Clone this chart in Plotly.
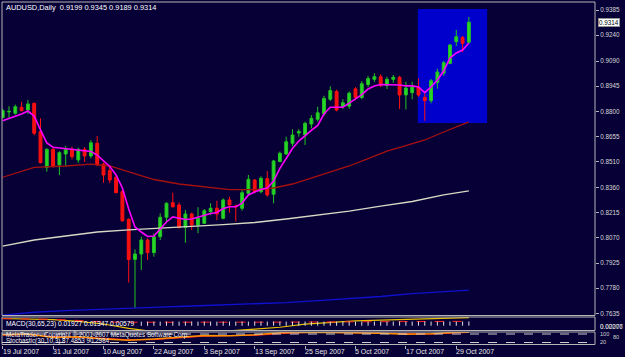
import plotly.graph_objects as go
import pandas as pd

# ---------------- data ----------------
dates = [d.strftime("%Y-%m-%d") for d in pd.bdate_range("2007-07-19", "2007-10-31")]

opens = [0.8765,0.8797,0.8789,0.8824,0.8808,0.8847,0.8683,0.8477,0.8581,0.8491,
 0.8554,0.8581,0.8520,0.8581,0.8543,0.8616,0.8496,0.8458,0.8420,0.8337,
 0.8177,0.7946,0.7977,0.8058,0.7985,0.8077,0.8189,0.8273,0.8260,0.8131,
 0.8208,0.8144,0.8154,0.8221,0.8241,0.8183,0.8289,0.8254,0.8241,0.8327,
 0.8404,0.8337,0.8412,0.8322,0.8510,0.8554,0.8616,0.8675,0.8664,0.8727,
 0.8754,0.8785,0.8870,0.8915,0.8827,0.8830,0.8930,0.8880,0.8955,0.8985,
 0.9000,0.8950,0.8985,0.8997,0.8895,0.8908,0.8939,0.8881,0.8862,0.8966,
 0.9020,0.9077,0.9202,0.9227,0.9199]
highs = [0.8815,0.8830,0.8839,0.8856,0.8866,0.8850,0.8760,0.8587,0.8590,0.8570,
 0.8600,0.8596,0.8590,0.8594,0.8635,0.8658,0.8504,0.8481,0.8433,0.8350,
 0.8183,0.8004,0.8077,0.8067,0.8096,0.8212,0.8275,0.8331,0.8275,0.8231,
 0.8216,0.8247,0.8237,0.8270,0.8285,0.8298,0.8308,0.8262,0.8346,0.8433,
 0.8410,0.8425,0.8456,0.8520,0.8568,0.8654,0.8697,0.8697,0.8740,0.8779,
 0.8827,0.8890,0.8945,0.8925,0.8870,0.8915,0.8940,0.8975,0.9005,0.9020,
 0.9015,0.9000,0.9010,0.9005,0.8971,0.8971,0.8991,0.8904,0.8987,0.9046,
 0.9091,0.9189,0.9270,0.9235,0.9345]
lows = [0.8760,0.8757,0.8781,0.8800,0.8785,0.8662,0.8500,0.8452,0.8475,0.8433,
 0.8485,0.8523,0.8504,0.8508,0.8529,0.8485,0.8388,0.8385,0.8327,0.8163,
 0.7812,0.7664,0.7885,0.7942,0.7962,0.8058,0.8156,0.8245,0.8123,0.8042,
 0.8116,0.8097,0.8150,0.8202,0.8173,0.8177,0.8216,0.8164,0.8227,0.8318,
 0.8327,0.8327,0.8308,0.8270,0.8508,0.8548,0.8600,0.8654,0.8606,0.8702,
 0.8741,0.8775,0.8860,0.8800,0.8815,0.8815,0.8865,0.8870,0.8940,0.8970,
 0.8940,0.8930,0.8965,0.8814,0.8811,0.8870,0.8885,0.8746,0.8847,0.8931,
 0.9004,0.9072,0.9177,0.9141,0.9189]
closes = [0.8804,0.8800,0.8827,0.8804,0.8843,0.8674,0.8504,0.8581,0.8485,0.8562,
 0.8581,0.8539,0.8581,0.8543,0.8619,0.8491,0.8433,0.8404,0.8331,0.8169,
 0.7946,0.7977,0.8058,0.7985,0.8077,0.8189,0.8270,0.8250,0.8131,0.8208,
 0.8144,0.8183,0.8227,0.8241,0.8208,0.8289,0.8260,0.8250,0.8331,0.8408,
 0.8337,0.8414,0.8318,0.8514,0.8558,0.8625,0.8664,0.8684,0.8731,0.8760,
 0.8792,0.8875,0.8920,0.8808,0.8850,0.8905,0.8880,0.8960,0.8990,0.9000,
 0.8950,0.8985,0.8997,0.8895,0.8935,0.8941,0.8895,0.8862,0.8977,0.9027,
 0.9081,0.9183,0.9231,0.9193,0.9314]

# fast MA (magenta), read per bar
ma_fast = [0.8746,0.8759,0.8771,0.8785,0.8802,0.8773,0.8693,0.8618,0.8593,0.8589,
 0.8587,0.8583,0.8577,0.8573,0.8569,0.8548,0.8517,0.8482,0.8433,0.8358,
 0.8237,0.8133,0.8104,0.8078,0.8081,0.8124,0.8162,0.8191,0.8185,0.8176,
 0.8179,0.8191,0.8202,0.8211,0.8217,0.8240,0.8250,0.8250,0.8271,0.8318,
 0.8335,0.8349,0.8358,0.8398,0.8471,0.8531,0.8586,0.8629,0.8661,0.8690,
 0.8719,0.8785,0.8824,0.8824,0.8824,0.8848,0.8874,0.8897,0.8929,0.8947,
 0.8955,0.8955,0.8952,0.8952,0.8947,0.8947,0.8941,0.8908,0.8941,0.8981,
 0.9033,0.9108,0.9137,0.9154,0.9195]

# slower MAs, read at selected bars
ma_mid_idx = [0,5,10,14,17,20,24,28,32,36,40,43,46,49,52,55,58,61,64,67,70,74]
ma_mid = [0.8420,0.8477,0.8485,0.8496,0.8485,0.8450,0.8407,0.8381,0.8364,0.8349,0.8349,
          0.8358,0.8381,0.8416,0.8450,0.8485,0.8528,0.8571,0.8603,0.8635,0.8681,0.8739]
ma_slow_idx = [0,5,10,15,20,25,30,35,40,45,50,55,60,65,70,74]
ma_slow = [0.8023,0.8058,0.8081,0.8104,0.8116,0.8124,0.8136,0.8147,0.8159,0.8179,
           0.8202,0.8225,0.8254,0.8280,0.8318,0.8341]
ma_long = [0.7625,0.7641,0.7650,0.7658,0.7664,0.7671,0.7677,0.7683,0.7690,0.7697,
           0.7708,0.7718,0.7732,0.7749,0.7761,0.7769]

# MACD panel
macd_idx = [0,4,8,12,16,20,24,28,32,36,40,44,48,52,56,60,64,68,72,74]
macd_main = [0.0150,0.0140,0.0100,0.0020,-0.0100,-0.0300,-0.0450,-0.0480,-0.0450,-0.0420,
             -0.0340,-0.0250,-0.0110,-0.0020,0.0040,0.0080,0.0110,0.0130,0.0165,0.01927]
macd_signal = [0.0140,0.0135,0.0115,0.0060,-0.0010,-0.0020,-0.0025,-0.0025,-0.0025,-0.0020,
               -0.0020,-0.0015,-0.0010,0.0000,0.0005,0.0010,0.0012,0.0015,0.0018,0.0020]
hist_start = 22
macd_hist = [-0.0090,-0.0088,-0.0086,-0.0090,-0.0087,-0.0085,-0.0088,-0.0086,-0.0084,-0.0087,
             -0.0085,-0.0086,-0.0088,-0.0085,-0.0084,-0.0086,-0.0085,-0.0087,-0.0084,-0.0085,
             -0.0086,-0.0084,-0.0085,-0.0086,-0.0084,-0.0085,-0.0083,-0.0085,-0.0084,-0.0086,
             -0.0085,-0.0084,-0.0083,-0.0085,-0.0084,-0.0085,-0.0083,-0.0084,-0.0085,-0.0083,
             -0.0084,-0.0083,-0.0085,-0.0084,-0.0083,-0.0084,-0.0085,-0.0083,-0.0084,-0.0083,
             -0.0084,-0.0083,-0.0082]

# Stochastic panel
stoch_idx = macd_idx
stoch_main = [75,80,55,60,45,35,45,60,70,68,75,88,92,90,88,86,78,82,92,94]
stoch_signal = [72,76,62,58,50,40,40,52,64,68,70,82,90,91,89,87,82,80,87,91]

price_ticks = [0.9385,0.9240,0.9090,0.8945,0.8800,0.8655,0.8510,0.8360,0.8215,0.8070,0.7925,0.7780,0.7635]
label_bars = [0,8,16,24,32,40,48,56,64,72]
label_text = ["19 Jul 2007","31 Jul 2007","10 Aug 2007","22 Aug 2007","3 Sep 2007",
              "13 Sep 2007","25 Sep 2007","5 Oct 2007","17 Oct 2007","29 Oct 2007"]
title_text = "AUDUSD,Daily  0.9199 0.9345 0.9189 0.9314"
macd_text = "MACD(30,65,23) 0.01927 0.01347 0.00579"

# rectangle object drawn on the chart (bar index / price)
box_x = [65.9, 76.9]
box_y = [0.8733, 0.9391]

# ---------------- style / layout ----------------
W, H = 625, 357
BG = "rgb(6,0,54)"
BORDER = "#b4b4b4"
FONT = "Liberation Sans"

def py(px):
    return 1 - px / H

xdom = [2 / W, 595 / W]
main_dom = [py(315.5), py(2)]
macd_dom = [py(330.5), py(317)]
stoch_dom = [py(344.5), py(332)]
xrange = [-0.111, 94.02]

fig = go.Figure()

fig.add_trace(go.Candlestick(
    x=dates, open=opens, high=highs, low=lows, close=closes,
    increasing=dict(line=dict(color="#22c422", width=1), fillcolor="#28d828"),
    decreasing=dict(line=dict(color="#ff1010", width=1), fillcolor="#f01010"),
    whiskerwidth=0, hoverinfo="skip", showlegend=False, xaxis="x", yaxis="y"))

fig.add_trace(go.Scatter(x=[dates[i] for i in ma_slow_idx], y=ma_long, mode="lines",
                         line=dict(color="#1010d0", width=1.3), hoverinfo="skip", showlegend=False))
fig.add_trace(go.Scatter(x=[dates[i] for i in ma_slow_idx], y=ma_slow, mode="lines",
                         line=dict(color="#d8d8c4", width=1.3), hoverinfo="skip", showlegend=False))
fig.add_trace(go.Scatter(x=[dates[i] for i in ma_mid_idx], y=ma_mid, mode="lines",
                         line=dict(color="#a81010", width=1.3), hoverinfo="skip", showlegend=False))
fig.add_trace(go.Scatter(x=dates, y=ma_fast, mode="lines",
                         line=dict(color="#ff00ff", width=1.6), hoverinfo="skip", showlegend=False))

# MACD
fig.add_trace(go.Scatter(x=[dates[i] for i in macd_idx], y=macd_main, mode="lines",
                         line=dict(color="#e8c000", width=1.2), hoverinfo="skip", showlegend=False,
                         xaxis="x3", yaxis="y2"))
fig.add_trace(go.Scatter(x=[dates[i] for i in macd_idx], y=macd_signal, mode="lines",
                         line=dict(color="#ff2020", width=1, dash="dash"), hoverinfo="skip",
                         showlegend=False, xaxis="x3", yaxis="y2"))
fig.add_trace(go.Scatter(x=dates[hist_start:hist_start + len(macd_hist)], y=macd_hist, mode="markers",
                         marker=dict(symbol="line-ns", size=3, line=dict(color="#e0e0e0", width=1)),
                         hoverinfo="skip", showlegend=False, xaxis="x3", yaxis="y2"))

# Stochastic
fig.add_trace(go.Scatter(x=[dates[i] for i in stoch_idx], y=stoch_signal, mode="lines",
                         line=dict(color="#ff2020", width=1), hoverinfo="skip", showlegend=False,
                         xaxis="x2", yaxis="y3"))
fig.add_trace(go.Scatter(x=[dates[i] for i in stoch_idx], y=stoch_main, mode="lines",
                         line=dict(color="#ff9000", width=1.5), hoverinfo="skip", showlegend=False,
                         xaxis="x2", yaxis="y3"))

shapes = [
    dict(type="rect", xref="x", yref="y", x0=box_x[0], x1=box_x[1], y0=box_y[0], y1=box_y[1],
         fillcolor="#0000cd", line=dict(width=0), layer="below"),
]
for dom in (main_dom, macd_dom, stoch_dom):
    shapes.append(dict(type="rect", xref="paper", yref="paper", x0=xdom[0], x1=xdom[1],
                       y0=dom[0], y1=dom[1], line=dict(color=BORDER, width=1)))
for lvl in (80, 20):
    shapes.append(dict(type="line", xref="paper", yref="y3", x0=xdom[0], x1=xdom[1], y0=lvl, y1=lvl,
                       line=dict(color="#d0d0d0", width=1, dash="dash")))

ann = []
ann.append(dict(text=title_text, xref="paper", yref="paper", x=4 / W, y=py(7.8), xanchor="left",
                yanchor="middle", showarrow=False, font=dict(size=7.4, color="#ffffff")))
ann.append(dict(text=macd_text, xref="paper", yref="paper", x=4 / W, y=py(324.3), xanchor="left",
                yanchor="middle", showarrow=False, font=dict(size=6.7, color="#ffffff")))
ann.append(dict(text="MetaTrader - Copyright © 2001-2007 MetaQuotes Software Corp.", xref="paper",
                yref="paper", x=4 / W, y=py(335.0), xanchor="left", yanchor="middle", showarrow=False,
                font=dict(size=6.3, color="#f0f0f0")))
ann.append(dict(text="Stochastic(30,10,3) 87.4853 90.2984", xref="paper", yref="paper", x=4 / W,
                y=py(340.6), xanchor="left", yanchor="middle", showarrow=False,
                font=dict(size=6.3, color="#f0f0f0")))
for b, t in zip(label_bars, label_text):
    ann.append(dict(text=t, xref="x2", yref="paper", x=dates[b], y=py(351.5), xanchor="left",
                    yanchor="middle", xshift=-2, showarrow=False, font=dict(size=7, color="#e8e8e8")))
ann.append(dict(text="0.9314", xref="paper", yref="y", x=597.5 / W, y=closes[-1], xanchor="left",
                yanchor="middle", showarrow=False, bgcolor="#ffffff", bordercolor="#909090",
                borderwidth=1, borderpad=0, font=dict(size=6.3, color="#000000")))
for txt in ("0.02207", "0.00076"):
    ann.append(dict(text=txt, xref="paper", yref="paper", x=598 / W, y=py(326.5), xanchor="left",
                    yanchor="middle", showarrow=False, font=dict(size=6.3, color="#d0d0d0")))
for txt, xpx, ypx in (("100", 598, 334.0), ("80", 611, 336.5), ("20", 598, 341.8)):
    ann.append(dict(text=txt, xref="paper", yref="paper", x=xpx / W, y=py(ypx), xanchor="left",
                    yanchor="middle", showarrow=False, font=dict(size=5.6, color="#d0d0d0")))

fig.update_layout(
    width=W, height=H, margin=dict(l=0, r=0, t=0, b=0),
    paper_bgcolor=BG, plot_bgcolor=BG,
    font=dict(family=FONT, color="#d0d0d0"),
    showlegend=False, boxgap=0.35,
    xaxis=dict(domain=xdom, type="category", range=xrange, anchor="y", showgrid=False,
               zeroline=False, showticklabels=False, ticks="", showline=False,
               rangeslider=dict(visible=False)),
    xaxis2=dict(domain=xdom, type="category", range=xrange, anchor="y3", matches="x", showgrid=False,
                zeroline=False, showticklabels=False, ticks="outside", ticklen=3, tickcolor=BORDER,
                tickmode="array", tickvals=[dates[b] for b in label_bars], showline=False),
    xaxis3=dict(domain=xdom, type="category", range=xrange, anchor="y2", matches="x", showgrid=False,
                zeroline=False, showticklabels=False, ticks="", showline=False),
    yaxis=dict(domain=main_dom, range=[0.76223, 0.94312], side="right", anchor="x", showgrid=False,
               zeroline=False, tickmode="array", tickvals=price_ticks,
               ticktext=["%.4f" % v for v in price_ticks], ticks="outside", ticklen=3,
               tickcolor=BORDER, tickfont=dict(size=6.3, color="#d8d8d8", family=FONT), showline=False),
    yaxis2=dict(domain=macd_dom, range=[-0.0400, 0.0220], anchor="x3", showgrid=False, zeroline=False,
                showticklabels=False, ticks="", showline=False),
    yaxis3=dict(domain=stoch_dom, range=[5.88, 94.1], anchor="x2", showgrid=False, zeroline=False,
                showticklabels=False, ticks="", showline=False),
    shapes=shapes, annotations=ann,
)

fig.write_html("out.html")
